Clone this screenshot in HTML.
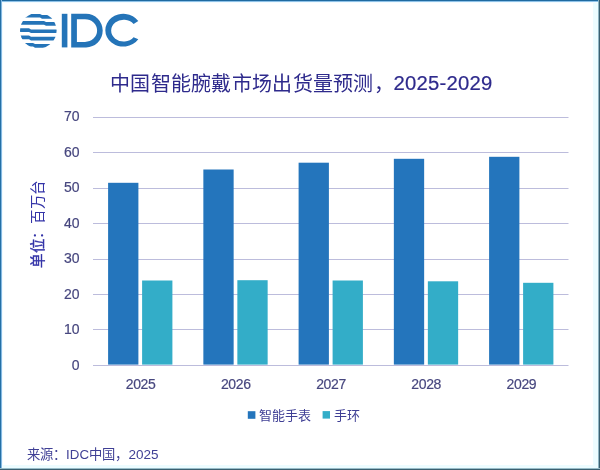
<!DOCTYPE html>
<html lang="zh-CN"><head><meta charset="utf-8">
<style>
html,body{margin:0;padding:0;background:#fff;}
body{width:600px;height:470px;overflow:hidden;position:relative;font-family:"Liberation Sans",sans-serif;}
svg{position:absolute;left:0;top:0;will-change:transform;}
</style></head>
<body>
<svg width="600" height="470" viewBox="0 0 600 470" font-family="Liberation Sans, sans-serif">
  <rect x="0" y="0" width="600" height="470" fill="#ffffff"/>
  <!-- border -->
  <rect x="593" y="0" width="5" height="470" fill="#ecfcff"/>
  <rect x="0" y="465" width="600" height="3" fill="#ecfcff"/>
  <rect x="0" y="2" width="600" height="1" fill="#f2fbff"/>
  <rect x="2" y="0" width="1" height="470" fill="#f0fbff"/>
  <rect x="0" y="0" width="600" height="1" fill="#1f6aa0"/>
  <rect x="0" y="1" width="600" height="1" fill="#8ec2e8"/>
  <rect x="0" y="0" width="1" height="470" fill="#2570a5"/>
  <rect x="1" y="0" width="1" height="470" fill="#84b8e2"/>
  <rect x="598" y="0" width="1" height="470" fill="#8fb5c4"/>
  <rect x="599" y="0" width="1" height="470" fill="#3a5f70"/>
  <rect x="0" y="468" width="600" height="1" fill="#98bcc8"/>
  <rect x="0" y="469" width="600" height="1" fill="#3a5f70"/>

  <!-- IDC logo -->
  <defs>
    <clipPath id="globe"><ellipse cx="38.3" cy="30.6" rx="18.3" ry="18.0"/></clipPath>
  </defs>
  <g fill="#2474b8">
    <g clip-path="url(#globe)">
      <path d="M18 13.9 H40 L42 15.0 H58 V18.7 H42 L40 17.6 H18 Z"/>
      <path d="M18 21.0 H44 L46 22.1 H58 V25.8 H46 L44 24.7 H18 Z"/>
      <path d="M18 28.3 H29 L31 29.4 H58 V33.1 H31 L29 32.0 H18 Z"/>
      <path d="M18 35.6 H29 L31 36.7 H58 V40.4 H31 L29 39.3 H18 Z"/>
      <path d="M18 42.9 H33 L35 44.0 H58 V47.7 H35 L33 46.6 H18 Z"/>
    </g>
    <rect x="61.8" y="13.8" width="5.6" height="33.6"/>
    <path fill-rule="evenodd" d="M71.2 13.8 H86.1 A16.6 16.8 0 0 1 86.1 47.4 H71.2 Z M76.9 19.3 V41.9 H85 A12.1 11.3 0 0 0 85 19.3 Z"/>
    <path d="M138.3 21.1 A18 16.4 0 1 0 138.3 39.3 L133.6 37.2 A12.5 10.9 0 1 1 133.6 24 Z"/>
  </g>

  <!-- title -->
  <text font-size="20" fill="#2e2a8c"><tspan x="110.1" y="90.9" letter-spacing="0.27">中国智能腕戴市场出货量预测，</tspan><tspan x="393.6" y="89.8" font-size="20.3" letter-spacing="0.2" stroke="#2e2a8c" stroke-width="0.2">2025-2029</tspan></text>

  <!-- gridlines -->
  <g fill="#bcbcdc">
    <rect x="93" y="117" width="475.5" height="1"/>
    <rect x="93" y="152" width="475.5" height="1"/>
    <rect x="93" y="188" width="475.5" height="1"/>
    <rect x="93" y="223" width="475.5" height="1"/>
    <rect x="93" y="259" width="475.5" height="1"/>
    <rect x="93" y="294" width="475.5" height="1"/>
    <rect x="93" y="329" width="475.5" height="1"/>
    <rect x="93" y="365" width="475.5" height="1"/>
  </g>

  <!-- y labels -->
  <g font-size="14" fill="#47477f" text-anchor="end" stroke="#47477f" stroke-width="0.2">
    <text x="79.6" y="121.00">70</text>
    <text x="79.6" y="156.54">60</text>
    <text x="79.6" y="192.08">50</text>
    <text x="79.6" y="227.62">40</text>
    <text x="79.6" y="263.16">30</text>
    <text x="79.6" y="298.70">20</text>
    <text x="79.6" y="334.24">10</text>
    <text x="79.6" y="369.78">0</text>
  </g>

  <!-- bars -->
  <g fill="#2475bc">
    <rect x="108.10" y="182.8" width="30.3" height="181.80"/>
    <rect x="203.35" y="169.5" width="30.3" height="195.10"/>
    <rect x="298.60" y="162.7" width="30.3" height="201.90"/>
    <rect x="393.85" y="158.8" width="30.3" height="205.80"/>
    <rect x="489.10" y="156.8" width="30.3" height="207.80"/>
  </g>
  <g fill="#33adc8">
    <rect x="142.10" y="280.5" width="30.3" height="84.10"/>
    <rect x="237.35" y="280.2" width="30.3" height="84.40"/>
    <rect x="332.60" y="280.5" width="30.3" height="84.10"/>
    <rect x="427.85" y="281.3" width="30.3" height="83.30"/>
    <rect x="523.10" y="282.8" width="30.3" height="81.80"/>
  </g>

  <!-- x labels -->
  <g font-size="14" fill="#47477f" text-anchor="middle" letter-spacing="-0.35" stroke="#47477f" stroke-width="0.2">
    <text x="140.6" y="388.8">2025</text>
    <text x="235.8" y="388.8">2026</text>
    <text x="331" y="388.8">2027</text>
    <text x="426.2" y="388.8">2028</text>
    <text x="521.4" y="388.8">2029</text>
  </g>

  <!-- y axis title -->
  <text transform="translate(42.6 224.1) rotate(-90)" font-size="14.5" letter-spacing="0.6" fill="#3434a8" text-anchor="middle"><tspan stroke="#3434a8" stroke-width="0.4">单位</tspan>：百万台</text>

  <!-- legend -->
  <rect x="247.8" y="411.2" width="7.6" height="7.6" fill="#2475bc"/>
  <text x="259" y="419.5" font-size="13" fill="#3f3f95">智能手表</text>
  <rect x="322.6" y="411.1" width="7.4" height="7.5" fill="#33adc8"/>
  <text x="334" y="419.5" font-size="13" fill="#3f3f95">手环</text>

  <!-- source -->
  <text x="27.1" y="458.8" font-size="13.3" fill="#3f3f95">来源：IDC中国，<tspan x="128.6" font-size="13.5">2025</tspan></text>
</svg>
</body></html>
